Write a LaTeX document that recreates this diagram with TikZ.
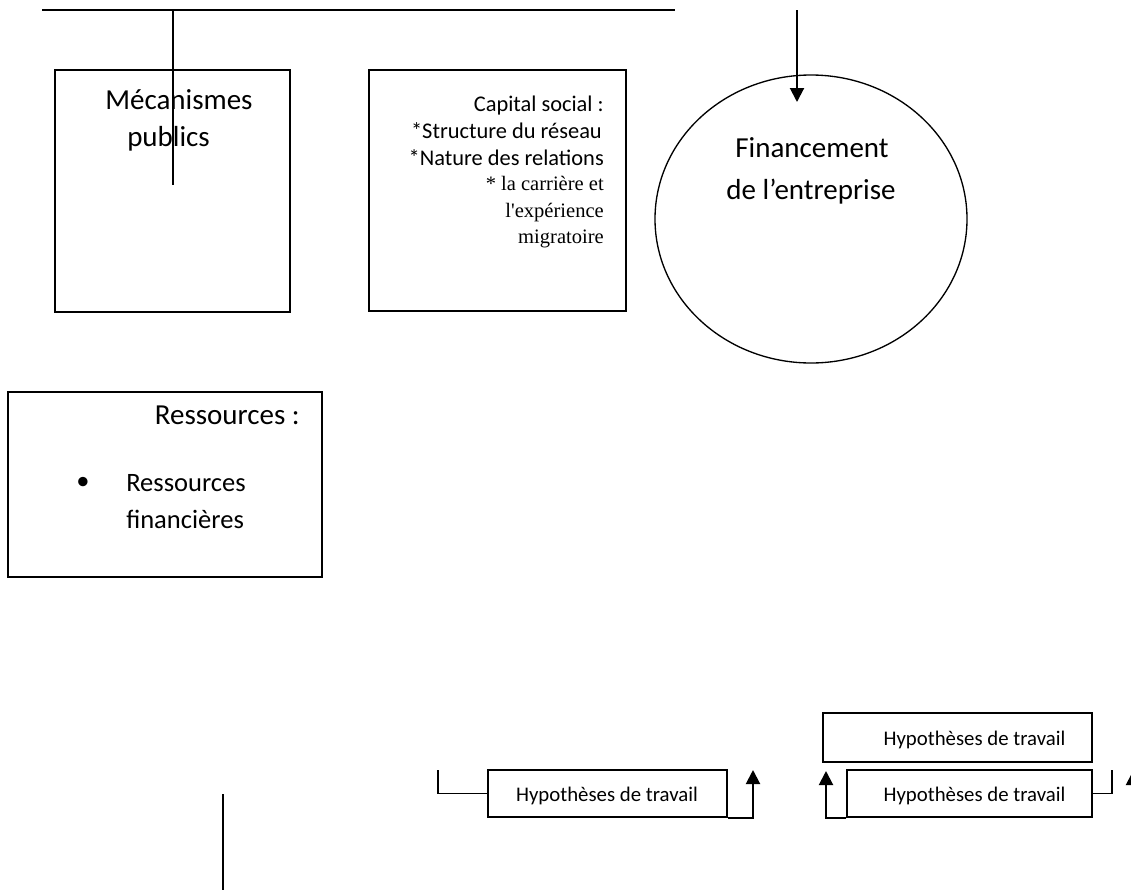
\documentclass[tikz,border=0pt]{standalone}
\usepackage{fontspec}
\setmainfont{Carlito}
\newfontfamily\tnr{Liberation Serif}
\usetikzlibrary{arrows.meta,shapes.geometric}
\begin{document}
\begin{tikzpicture}[x=0.75pt,y=-0.75pt,
  box/.style={draw,line width=1pt,rectangle,inner sep=0pt},
  thinline/.style={line width=1pt},
  arr/.style={line width=1.5pt,-{Triangle[length=10.5pt,width=10.5pt]}},
  bigtxt/.style={font=\fontsize{21.75}{26}\selectfont,inner sep=0pt},
  midtxt/.style={font=\fontsize{19.9}{24}\selectfont,inner sep=0pt},
  captxt/.style={font=\fontsize{16.8}{20}\selectfont,inner sep=0pt},
  sertxt/.style={font=\tnr\fontsize{15.4}{18}\selectfont,inner sep=0pt},
  hyptxt/.style={font=\fontsize{15.6}{18}\selectfont,inner sep=0pt}
]
\useasboundingbox (0,0) rectangle (1131,889);
\clip (0,0) rectangle (1131,889);

% boxes
\node[box,minimum width={235*0.75pt},minimum height={242*0.75pt}] (meca) at (172.5,191) {};
\node[box,minimum width={257*0.75pt},minimum height={241*0.75pt}] (capi) at (497.5,190.5) {};
\node[draw,ellipse,line width=1pt,inner sep=0pt,minimum width={312*0.75pt},minimum height={288*0.75pt}] (fin) at (811,219) {};
\node[box,minimum width={314*0.75pt},minimum height={185*0.75pt}] (ress) at (165,484.5) {};
\node[box,minimum width={239*0.75pt},minimum height={47*0.75pt}] (hl) at (607.5,793.5) {};
\node[box,minimum width={269*0.75pt},minimum height={49*0.75pt}] (hr1) at (957.5,737.5) {};
\node[box,minimum width={245*0.75pt},minimum height={47*0.75pt}] (hr2) at (969.5,793.5) {};

% texts
\node[bigtxt,anchor=base west] (t1) at (105,109.6) {Mécanismes};
\node[bigtxt,anchor=base west] (t2) at (127,146.6) {publics};
\node[captxt,anchor=base east] (c1) at (604,111.4) {Capital social :};
\node[captxt,anchor=base east] (c2) at (602,138.4) {*Structure du réseau};
\node[captxt,anchor=base east] (c3) at (604,165.4) {*Nature des relations};
\node[sertxt,anchor=base east] (c4) at (604,190.2) {* la carrière et};
\node[sertxt,anchor=base east] (c5) at (604,217.2) {l\textquotesingle expérience};
\node[sertxt,anchor=base east] (c6) at (604,243.2) {migratoire};
\node[bigtxt,anchor=base] (f1) at (812,157.6) {Financement};
\node[bigtxt,anchor=base] (f2) at (811,199.6) {de l’entreprise};
\node[bigtxt,anchor=base east] (r1) at (300,424.6) {Ressources :};
\node[midtxt] (rb) at (83,483) {\textbullet};
\node[midtxt,anchor=base west] (r2) at (126,491.7) {Ressources};
\node[midtxt,anchor=base west] (r3) at (126,528.7) {financières};
\node[hyptxt,anchor=base] (h1) at (607,801) {Hypothèses de travail};
\node[hyptxt,anchor=base] (h2) at (974.5,745) {Hypothèses de travail};
\node[hyptxt,anchor=base] (h3) at (974.5,801) {Hypothèses de travail};

% connectors
\coordinate (topL) at (42,10);
\coordinate (topR) at (675,10);
\coordinate (vA) at (173,10);
\coordinate (vB) at (173,185);
\coordinate (arA) at (797,10);
\coordinate (arB) at (797,102);
\draw[thinline] (topL) -- (topR);
\draw[thinline] (vA) -- (vB);
\draw[arr] (arA) -- (arB);

\coordinate (brL) at (438,770);
\coordinate (hlA) at (753,770);
\coordinate (hrA) at (826,771);
\coordinate (brR) at (1112,770);
\coordinate (frA) at (1133,771);
\coordinate (frB) at (1133,817);
\coordinate (bvA) at (223,794);
\coordinate (bvB) at (223,895);
\draw[thinline] (brL) |- (hl.west);
\draw[arr] (hl.south east) -| (hlA);
\draw[arr] (hr2.south west) -| (hrA);
\draw[thinline] (hr2.east) -| (brR);
\draw[arr] (frB) -- (frA);
\draw[thinline] (bvA) -- (bvB);
\end{tikzpicture}
\end{document}
